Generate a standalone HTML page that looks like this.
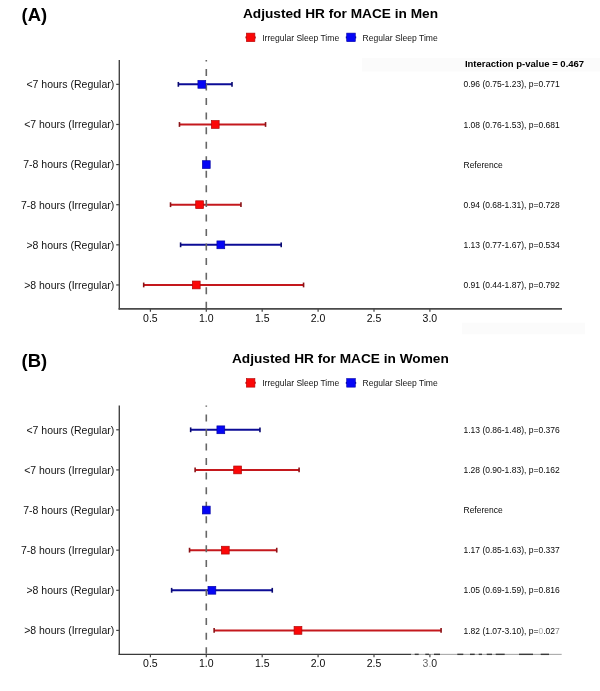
<!DOCTYPE html>
<html><head><meta charset="utf-8"><style>
html,body{margin:0;padding:0;background:#fff;width:600px;height:691px;overflow:hidden}
svg{display:block;font-family:"Liberation Sans", sans-serif;will-change:transform}
</style></head><body>
<svg width="600" height="691" viewBox="0 0 600 691">
<rect width="600" height="691" fill="#fff"/>
<rect x="362" y="58" width="238" height="13.5" fill="#fbfbfb"/>
<rect x="462" y="322.7" width="123" height="11.6" fill="#fbfbfb"/>
<text x="21.6" y="21.30" font-size="18.4" font-weight="bold">(A)</text>
<text x="243" y="17.80" font-size="13.67" font-weight="bold" text-anchor="start" class="t">Adjusted HR for MACE in Men</text>
<line x1="245.40" y1="37.40" x2="255.80" y2="37.40" stroke="#c4181d" stroke-width="2"/>
<rect x="246.30" y="33.10" width="8.6" height="8.6" fill="#fb0707" stroke="#b00808" stroke-width="0.6"/>
<text x="262.2" y="40.80" font-size="8.55" fill="#151515">Irregular Sleep Time</text>
<line x1="345.80" y1="37.40" x2="356.20" y2="37.40" stroke="#0c0c96" stroke-width="2"/>
<rect x="346.70" y="33.10" width="8.6" height="8.6" fill="#0505f5" stroke="#0606a8" stroke-width="0.6"/>
<text x="362.6" y="40.80" font-size="8.55" fill="#151515">Regular Sleep Time</text>
<text x="464.9" y="67.20" font-size="9.52" font-weight="bold">Interaction p-value = 0.467</text>
<line x1="119.3" y1="60.00" x2="119.3" y2="309.60" stroke="#444" stroke-width="1.4"/>
<line x1="118.6" y1="308.90" x2="562" y2="308.90" stroke="#4a4a4a" stroke-width="1.6"/>
<line x1="150.40" y1="308.90" x2="150.40" y2="311.80" stroke="#444" stroke-width="1.2"/>
<text x="150.40" y="321.60" font-size="10.5" text-anchor="middle" fill="#0a0a0a">0.5</text>
<line x1="206.30" y1="308.90" x2="206.30" y2="311.80" stroke="#444" stroke-width="1.2"/>
<text x="206.30" y="321.60" font-size="10.5" text-anchor="middle" fill="#0a0a0a">1.0</text>
<line x1="262.20" y1="308.90" x2="262.20" y2="311.80" stroke="#444" stroke-width="1.2"/>
<text x="262.20" y="321.60" font-size="10.5" text-anchor="middle" fill="#0a0a0a">1.5</text>
<line x1="318.10" y1="308.90" x2="318.10" y2="311.80" stroke="#444" stroke-width="1.2"/>
<text x="318.10" y="321.60" font-size="10.5" text-anchor="middle" fill="#0a0a0a">2.0</text>
<line x1="374.00" y1="308.90" x2="374.00" y2="311.80" stroke="#444" stroke-width="1.2"/>
<text x="374.00" y="321.60" font-size="10.5" text-anchor="middle" fill="#0a0a0a">2.5</text>
<line x1="429.90" y1="308.90" x2="429.90" y2="311.80" stroke="#444" stroke-width="1.2"/>
<text x="429.90" y="321.60" font-size="10.5" text-anchor="middle" fill="#0a0a0a">3.0</text>
<line x1="116.2" y1="84.35" x2="119.3" y2="84.35" stroke="#444" stroke-width="1.2"/>
<text x="114.3" y="88.15" font-size="10.5" text-anchor="end" fill="#111">&lt;7 hours (Regular)</text>
<line x1="116.2" y1="124.47" x2="119.3" y2="124.47" stroke="#444" stroke-width="1.2"/>
<text x="114.3" y="128.27" font-size="10.5" text-anchor="end" fill="#111">&lt;7 hours (Irregular)</text>
<line x1="116.2" y1="164.59" x2="119.3" y2="164.59" stroke="#444" stroke-width="1.2"/>
<text x="114.3" y="168.39" font-size="10.5" text-anchor="end" fill="#111">7-8 hours (Regular)</text>
<line x1="116.2" y1="204.71" x2="119.3" y2="204.71" stroke="#444" stroke-width="1.2"/>
<text x="114.3" y="208.51" font-size="10.5" text-anchor="end" fill="#111">7-8 hours (Irregular)</text>
<line x1="116.2" y1="244.83" x2="119.3" y2="244.83" stroke="#444" stroke-width="1.2"/>
<text x="114.3" y="248.63" font-size="10.5" text-anchor="end" fill="#111">&gt;8 hours (Regular)</text>
<line x1="116.2" y1="284.95" x2="119.3" y2="284.95" stroke="#444" stroke-width="1.2"/>
<text x="114.3" y="288.75" font-size="10.5" text-anchor="end" fill="#111">&gt;8 hours (Irregular)</text>
<line x1="178.35" y1="84.35" x2="232.01" y2="84.35" stroke="#0c0c96" stroke-width="2"/>
<line x1="178.35" y1="81.95" x2="178.35" y2="86.75" stroke="#0a0a70" stroke-width="1.6"/>
<line x1="232.01" y1="81.95" x2="232.01" y2="86.75" stroke="#0a0a70" stroke-width="1.6"/>
<line x1="179.47" y1="124.47" x2="265.55" y2="124.47" stroke="#c4181d" stroke-width="2"/>
<line x1="179.47" y1="122.07" x2="179.47" y2="126.87" stroke="#8a1216" stroke-width="1.6"/>
<line x1="265.55" y1="122.07" x2="265.55" y2="126.87" stroke="#8a1216" stroke-width="1.6"/>
<line x1="170.52" y1="204.71" x2="240.96" y2="204.71" stroke="#c4181d" stroke-width="2"/>
<line x1="170.52" y1="202.31" x2="170.52" y2="207.11" stroke="#8a1216" stroke-width="1.6"/>
<line x1="240.96" y1="202.31" x2="240.96" y2="207.11" stroke="#8a1216" stroke-width="1.6"/>
<line x1="180.59" y1="244.83" x2="281.21" y2="244.83" stroke="#0c0c96" stroke-width="2"/>
<line x1="180.59" y1="242.43" x2="180.59" y2="247.23" stroke="#0a0a70" stroke-width="1.6"/>
<line x1="281.21" y1="242.43" x2="281.21" y2="247.23" stroke="#0a0a70" stroke-width="1.6"/>
<line x1="143.69" y1="284.95" x2="303.57" y2="284.95" stroke="#c4181d" stroke-width="2"/>
<line x1="143.69" y1="282.55" x2="143.69" y2="287.35" stroke="#8a1216" stroke-width="1.6"/>
<line x1="303.57" y1="282.55" x2="303.57" y2="287.35" stroke="#8a1216" stroke-width="1.6"/>
<line x1="206.3" y1="60.00" x2="206.3" y2="308.20" stroke="#666" stroke-width="1.6" stroke-dasharray="7 7.55" stroke-dashoffset="5.6"/>
<rect x="197.93" y="80.45" width="7.8" height="7.8" fill="#0505f5" stroke="#0606a8" stroke-width="0.7"/>
<text x="463.5" y="87.45" font-size="8.5" fill="#080808">0.96 (0.75-1.23), p=0.771</text>
<rect x="211.34" y="120.57" width="7.8" height="7.8" fill="#fb0707" stroke="#b00808" stroke-width="0.7"/>
<text x="463.5" y="127.57" font-size="8.5" fill="#080808">1.08 (0.76-1.53), p=0.681</text>
<rect x="202.40" y="160.69" width="7.8" height="7.8" fill="#0505f5" stroke="#0606a8" stroke-width="0.7"/>
<text x="463.5" y="167.69" font-size="8.5" fill="#080808">Reference</text>
<rect x="195.69" y="200.81" width="7.8" height="7.8" fill="#fb0707" stroke="#b00808" stroke-width="0.7"/>
<text x="463.5" y="207.81" font-size="8.5" fill="#080808">0.94 (0.68-1.31), p=0.728</text>
<rect x="216.93" y="240.93" width="7.8" height="7.8" fill="#0505f5" stroke="#0606a8" stroke-width="0.7"/>
<text x="463.5" y="247.93" font-size="8.5" fill="#080808">1.13 (0.77-1.67), p=0.534</text>
<rect x="192.34" y="281.05" width="7.8" height="7.8" fill="#fb0707" stroke="#b00808" stroke-width="0.7"/>
<text x="463.5" y="288.05" font-size="8.5" fill="#080808">0.91 (0.44-1.87), p=0.792</text>
<text x="21.6" y="366.75" font-size="18.4" font-weight="bold">(B)</text>
<text x="232" y="363.25" font-size="13.67" font-weight="bold">Adjusted HR for MACE in Women</text>
<line x1="245.40" y1="382.85" x2="255.80" y2="382.85" stroke="#c4181d" stroke-width="2"/>
<rect x="246.30" y="378.55" width="8.6" height="8.6" fill="#fb0707" stroke="#b00808" stroke-width="0.6"/>
<text x="262.2" y="386.25" font-size="8.55" fill="#151515">Irregular Sleep Time</text>
<line x1="345.80" y1="382.85" x2="356.20" y2="382.85" stroke="#0c0c96" stroke-width="2"/>
<rect x="346.70" y="378.55" width="8.6" height="8.6" fill="#0505f5" stroke="#0606a8" stroke-width="0.6"/>
<text x="362.6" y="386.25" font-size="8.55" fill="#151515">Regular Sleep Time</text>
<line x1="119.3" y1="405.45" x2="119.3" y2="655.05" stroke="#444" stroke-width="1.4"/>
<line x1="118.6" y1="654.35" x2="411.3" y2="654.35" stroke="#3a3a3a" stroke-width="1.4"/>
<line x1="411.3" y1="654.35" x2="561.7" y2="654.35" stroke="#a0a0a0" stroke-width="1"/>
<line x1="414.7" y1="654.35" x2="418.7" y2="654.35" stroke="#3a3a3a" stroke-width="1.4"/>
<line x1="425.3" y1="654.35" x2="429" y2="654.35" stroke="#3a3a3a" stroke-width="1.4"/>
<line x1="434" y1="654.35" x2="440" y2="654.35" stroke="#3a3a3a" stroke-width="1.4"/>
<line x1="457.3" y1="654.35" x2="463.3" y2="654.35" stroke="#3a3a3a" stroke-width="1.4"/>
<line x1="470" y1="654.35" x2="474.7" y2="654.35" stroke="#3a3a3a" stroke-width="1.4"/>
<line x1="478.7" y1="654.35" x2="482" y2="654.35" stroke="#3a3a3a" stroke-width="1.4"/>
<line x1="486.7" y1="654.35" x2="492" y2="654.35" stroke="#3a3a3a" stroke-width="1.4"/>
<line x1="495.7" y1="654.35" x2="504.7" y2="654.35" stroke="#3a3a3a" stroke-width="1.4"/>
<line x1="519" y1="654.35" x2="533" y2="654.35" stroke="#3a3a3a" stroke-width="1.4"/>
<line x1="540.7" y1="654.35" x2="549" y2="654.35" stroke="#3a3a3a" stroke-width="1.4"/>
<line x1="150.40" y1="654.35" x2="150.40" y2="657.25" stroke="#444" stroke-width="1.2"/>
<text x="150.40" y="667.05" font-size="10.5" text-anchor="middle" fill="#0a0a0a">0.5</text>
<line x1="206.30" y1="654.35" x2="206.30" y2="657.25" stroke="#444" stroke-width="1.2"/>
<text x="206.30" y="667.05" font-size="10.5" text-anchor="middle" fill="#0a0a0a">1.0</text>
<line x1="262.20" y1="654.35" x2="262.20" y2="657.25" stroke="#444" stroke-width="1.2"/>
<text x="262.20" y="667.05" font-size="10.5" text-anchor="middle" fill="#0a0a0a">1.5</text>
<line x1="318.10" y1="654.35" x2="318.10" y2="657.25" stroke="#444" stroke-width="1.2"/>
<text x="318.10" y="667.05" font-size="10.5" text-anchor="middle" fill="#0a0a0a">2.0</text>
<line x1="374.00" y1="654.35" x2="374.00" y2="657.25" stroke="#444" stroke-width="1.2"/>
<text x="374.00" y="667.05" font-size="10.5" text-anchor="middle" fill="#0a0a0a">2.5</text>
<line x1="429.90" y1="654.35" x2="429.90" y2="657.25" stroke="#444" stroke-width="1.2"/>
<text x="429.90" y="667.05" font-size="10.5" text-anchor="middle" fill="#1a1a1a"><tspan fill="#6a6a6a">3</tspan><tspan fill="#aaa">.</tspan>0</text>
<line x1="116.2" y1="429.80" x2="119.3" y2="429.80" stroke="#444" stroke-width="1.2"/>
<text x="114.3" y="433.60" font-size="10.5" text-anchor="end" fill="#111">&lt;7 hours (Regular)</text>
<line x1="116.2" y1="469.92" x2="119.3" y2="469.92" stroke="#444" stroke-width="1.2"/>
<text x="114.3" y="473.72" font-size="10.5" text-anchor="end" fill="#111">&lt;7 hours (Irregular)</text>
<line x1="116.2" y1="510.04" x2="119.3" y2="510.04" stroke="#444" stroke-width="1.2"/>
<text x="114.3" y="513.84" font-size="10.5" text-anchor="end" fill="#111">7-8 hours (Regular)</text>
<line x1="116.2" y1="550.16" x2="119.3" y2="550.16" stroke="#444" stroke-width="1.2"/>
<text x="114.3" y="553.96" font-size="10.5" text-anchor="end" fill="#111">7-8 hours (Irregular)</text>
<line x1="116.2" y1="590.28" x2="119.3" y2="590.28" stroke="#444" stroke-width="1.2"/>
<text x="114.3" y="594.08" font-size="10.5" text-anchor="end" fill="#111">&gt;8 hours (Regular)</text>
<line x1="116.2" y1="630.40" x2="119.3" y2="630.40" stroke="#444" stroke-width="1.2"/>
<text x="114.3" y="634.20" font-size="10.5" text-anchor="end" fill="#111">&gt;8 hours (Irregular)</text>
<line x1="190.65" y1="429.80" x2="259.96" y2="429.80" stroke="#0c0c96" stroke-width="2"/>
<line x1="190.65" y1="427.40" x2="190.65" y2="432.20" stroke="#0a0a70" stroke-width="1.6"/>
<line x1="259.96" y1="427.40" x2="259.96" y2="432.20" stroke="#0a0a70" stroke-width="1.6"/>
<line x1="195.12" y1="469.92" x2="299.09" y2="469.92" stroke="#c4181d" stroke-width="2"/>
<line x1="195.12" y1="467.52" x2="195.12" y2="472.32" stroke="#8a1216" stroke-width="1.6"/>
<line x1="299.09" y1="467.52" x2="299.09" y2="472.32" stroke="#8a1216" stroke-width="1.6"/>
<line x1="189.53" y1="550.16" x2="276.73" y2="550.16" stroke="#c4181d" stroke-width="2"/>
<line x1="189.53" y1="547.76" x2="189.53" y2="552.56" stroke="#8a1216" stroke-width="1.6"/>
<line x1="276.73" y1="547.76" x2="276.73" y2="552.56" stroke="#8a1216" stroke-width="1.6"/>
<line x1="171.64" y1="590.28" x2="272.26" y2="590.28" stroke="#0c0c96" stroke-width="2"/>
<line x1="171.64" y1="587.88" x2="171.64" y2="592.68" stroke="#0a0a70" stroke-width="1.6"/>
<line x1="272.26" y1="587.88" x2="272.26" y2="592.68" stroke="#0a0a70" stroke-width="1.6"/>
<line x1="214.13" y1="630.40" x2="441.08" y2="630.40" stroke="#c4181d" stroke-width="2"/>
<line x1="214.13" y1="628.00" x2="214.13" y2="632.80" stroke="#8a1216" stroke-width="1.6"/>
<line x1="441.08" y1="628.00" x2="441.08" y2="632.80" stroke="#8a1216" stroke-width="1.6"/>
<line x1="206.3" y1="405.45" x2="206.3" y2="653.65" stroke="#666" stroke-width="1.6" stroke-dasharray="7 7.55" stroke-dashoffset="5.6"/>
<rect x="216.93" y="425.90" width="7.8" height="7.8" fill="#0505f5" stroke="#0606a8" stroke-width="0.7"/>
<text x="463.5" y="432.90" font-size="8.5" fill="#080808">1.13 (0.86-1.48), p=0.376</text>
<rect x="233.70" y="466.02" width="7.8" height="7.8" fill="#fb0707" stroke="#b00808" stroke-width="0.7"/>
<text x="463.5" y="473.02" font-size="8.5" fill="#080808">1.28 (0.90-1.83), p=0.162</text>
<rect x="202.40" y="506.14" width="7.8" height="7.8" fill="#0505f5" stroke="#0606a8" stroke-width="0.7"/>
<text x="463.5" y="513.14" font-size="8.5" fill="#080808">Reference</text>
<rect x="221.41" y="546.26" width="7.8" height="7.8" fill="#fb0707" stroke="#b00808" stroke-width="0.7"/>
<text x="463.5" y="553.26" font-size="8.5" fill="#080808">1.17 (0.85-1.63), p=0.337</text>
<rect x="207.99" y="586.38" width="7.8" height="7.8" fill="#0505f5" stroke="#0606a8" stroke-width="0.7"/>
<text x="463.5" y="593.38" font-size="8.5" fill="#080808">1.05 (0.69-1.59), p=0.816</text>
<rect x="294.08" y="626.50" width="7.8" height="7.8" fill="#fb0707" stroke="#b00808" stroke-width="0.7"/>
<text x="463.5" y="633.50" font-size="8.5" fill="#080808">1.82 (1.07-3.10), p=<tspan fill="#a8a8a8">0</tspan>.02<tspan fill="#8a8a8a">7</tspan></text>
</svg>
</body></html>
